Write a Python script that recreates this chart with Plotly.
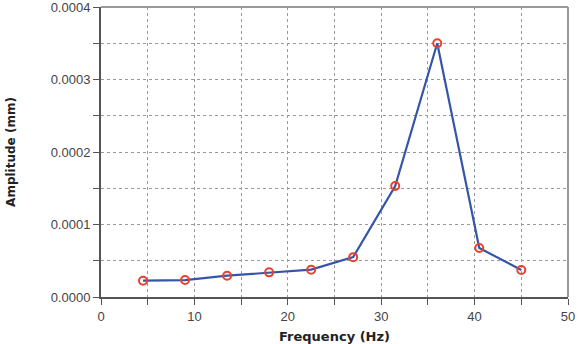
import plotly.graph_objects as go

freq = [4.5, 9, 13.5, 18, 22.5, 27, 31.5, 36, 40.5, 45]
amp = [0.0000225, 0.0000234, 0.0000294, 0.000034, 0.0000377, 0.000055,
       0.000153, 0.00035, 0.0000676, 0.0000372]

x_ticks = [0, 10, 20, 30, 40, 50]
y_ticks = [0, 0.0001, 0.0002, 0.0003, 0.0004]
y_labels = ["0.0000", "0.0001", "0.0002", "0.0003", "0.0004"]

fig = go.Figure()
fig.add_trace(go.Scatter(
    x=freq, y=amp, mode="lines+markers",
    line=dict(color="#3556a8", width=2.2),
    marker=dict(symbol="circle-open", size=8, color="#e8412c", line=dict(width=2, color="#e8412c")),
    showlegend=False,
))

fig.update_layout(
    width=580, height=344,
    margin=dict(l=101, r=12, t=7, b=47),
    paper_bgcolor="white", plot_bgcolor="white",
    font=dict(family="Liberation Sans, Arial", size=13, color="#444"),
    xaxis=dict(
        range=[0, 50], tickvals=x_ticks, ticktext=[str(v) for v in x_ticks],
        automargin=False, ticklabeloverflow="allow",
        showline=True, linecolor="#555", linewidth=2,
        ticks="outside", ticklen=6, tickcolor="#555",
        showgrid=True, gridcolor="#999", griddash="dot", gridwidth=1,
        minor=dict(dtick=5, ticks="outside", ticklen=6, tickcolor="#555",
                   showgrid=True, gridcolor="#999", griddash="dot"),
        zeroline=False,
        title=dict(text="<b>Frequency (Hz)</b>", font=dict(family="DejaVu Sans", size=13, color="#222"), standoff=15),
    ),
    yaxis=dict(
        range=[0, 0.0004], tickvals=y_ticks, ticktext=y_labels,
        automargin=False, ticklabeloverflow="allow",
        showline=True, linecolor="#555", linewidth=2,
        ticks="outside", ticklen=6, tickcolor="#555",
        showgrid=True, gridcolor="#999", griddash="dot", gridwidth=1,
        minor=dict(dtick=0.00005, ticks="outside", ticklen=6, tickcolor="#555",
                   showgrid=True, gridcolor="#999", griddash="dot"),
        zeroline=False,
        title=dict(text="<b>Amplitude (mm)</b>", font=dict(family="DejaVu Sans", size=12, color="#222"), standoff=32),
    ),
    shapes=[
        dict(type="line", xref="paper", yref="paper", x0=0, x1=1, y0=1, y1=1, line=dict(color="#999", width=2)),
        dict(type="line", xref="paper", yref="paper", x0=1, x1=1, y0=0, y1=1, line=dict(color="#999", width=2)),
    ],
)

fig.write_html("out.html")
